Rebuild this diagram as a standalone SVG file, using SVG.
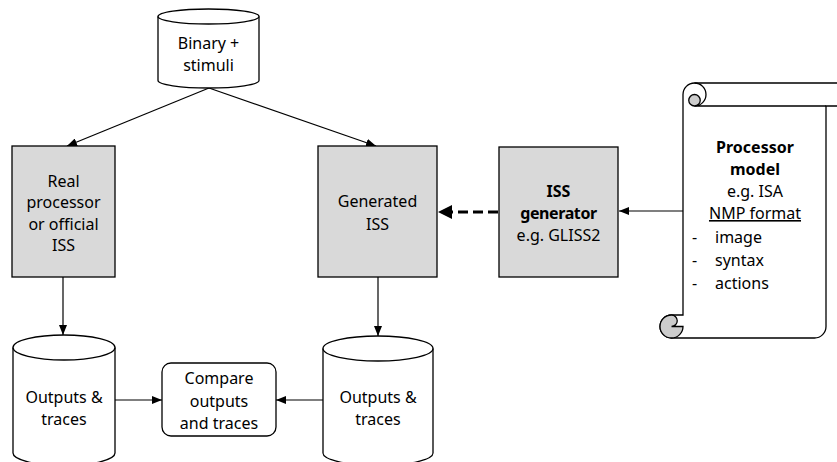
<svg xmlns="http://www.w3.org/2000/svg" width="837" height="462" viewBox="0 0 837 462">
<style>
text{font-family:"Noto Sans","Open Sans","Liberation Sans",sans-serif;font-size:16px;fill:#000;text-anchor:middle}
.b{font-weight:bold}
.l{text-anchor:start}
.box{fill:#d9d9d9;stroke:#000;stroke-width:1.3}
.shp{fill:#fff;stroke:#000;stroke-width:1.3}
.ln{fill:none;stroke:#000;stroke-width:1.3}
.con{fill:none;stroke:#000;stroke-width:1.2}
</style>
<defs>
<marker id="ah" viewBox="0 0 10 8" refX="10" refY="4" markerWidth="10" markerHeight="8" markerUnits="userSpaceOnUse" orient="auto"><path d="M0,0 L10,4 L0,8 Z" fill="#000"/></marker>
<marker id="ahb" viewBox="0 0 14 14" refX="0" refY="7" markerWidth="14" markerHeight="14" markerUnits="userSpaceOnUse" orient="auto"><path d="M0,0 L14,7 L0,14 Z" fill="#000"/></marker>
</defs>
<g id="connectors">
<line class="con" x1="209" y1="88" x2="67" y2="146" marker-end="url(#ah)"/>
<line class="con" x1="209" y1="88" x2="376" y2="146" marker-end="url(#ah)"/>
<line class="con" x1="63" y1="277" x2="63" y2="335" marker-end="url(#ah)"/>
<line class="con" x1="378" y1="277" x2="378" y2="336" marker-end="url(#ah)"/>
<line class="con" x1="115" y1="400" x2="162" y2="400" marker-end="url(#ah)"/>
<line class="con" x1="323" y1="400" x2="276" y2="400" marker-end="url(#ah)"/>
<line class="con" x1="684" y1="211" x2="619" y2="211" marker-end="url(#ah)"/>
<line x1="498" y1="212" x2="452" y2="212" stroke="#000" stroke-width="3" stroke-dasharray="10 5" marker-end="url(#ahb)"/>
</g>
<g id="binary">
<path class="shp" d="M158,16.5 A50.5,7.5 0 0 1 259,16.5 L259,80.5 A50.5,7.5 0 0 1 158,80.5 Z"/>
<path class="ln" d="M158,16.5 A50.5,7.5 0 0 0 259,16.5"/>
<text x="208.5" y="49">Binary +</text>
<text x="208.5" y="71">stimuli</text>
</g>
<g id="real">
<rect class="box" x="12" y="146" width="103" height="131"/>
<text x="63.5" y="186.5">Real</text>
<text x="63.5" y="208">processor</text>
<text x="63.5" y="229.5">or official</text>
<text x="63.5" y="251">ISS</text>
</g>
<g id="generated">
<rect class="box" x="318" y="146" width="119" height="131"/>
<text x="377.5" y="207">Generated</text>
<text x="377.5" y="230">ISS</text>
</g>
<g id="issgen">
<rect class="box" x="499" y="147" width="119" height="130"/>
<text class="b" x="558.5" y="197">ISS</text>
<text class="b" x="558.5" y="219" letter-spacing="-0.4">generator</text>
<text x="558.5" y="241">e.g. GLISS2</text>
</g>
<g id="model">
<path class="shp" d="M683,315 L683,94.5 A11.5,11.5 0 0 1 694.5,83 L837.5,83 A11.5,11.5 0 0 1 837.5,106 L826,106 L826,326.5 A11.5,11.5 0 0 1 814.5,338 L671.5,338 A11.5,11.5 0 0 1 671.5,315 Z"/>
<path class="ln" d="M694.5,83 A11.5,11.5 0 0 1 694.5,106 L826,106"/>
<circle cx="694.5" cy="100.25" r="5.75" fill="#cccccc" stroke="#000" stroke-width="1.3"/>
<path d="M683,326.5 L671.5,326.5 A5.75,5.75 0 0 0 671.5,315 A11.5,11.5 0 1 0 683,326.5 Z" fill="#cccccc" stroke="#000" stroke-width="1.3"/>
<text class="b" x="755" y="153">Processor</text>
<text class="b" x="755" y="175">model</text>
<text x="755" y="197">e.g. ISA</text>
<text x="755" y="219" text-decoration="underline">NMP format</text>
<text class="l" x="692" y="243">-</text>
<text class="l" x="715" y="243">image</text>
<text class="l" x="692" y="266">-</text>
<text class="l" x="715" y="266">syntax</text>
<text class="l" x="692" y="289">-</text>
<text class="l" x="715" y="289">actions</text>
</g>
<g id="outputs1">
<path class="shp" d="M13,347.5 A51,12.5 0 0 1 115,347.5 L115,453 A51,12.5 0 0 1 13,453 Z"/>
<path class="ln" d="M13,347.5 A51,12.5 0 0 0 115,347.5"/>
<text x="64" y="402.5">Outputs &amp;</text>
<text x="64" y="424.5">traces</text>
</g>
<g id="compare">
<rect class="shp" x="162" y="363" width="114" height="73" rx="9"/>
<text x="219" y="384">Compare</text>
<text x="219" y="407">outputs</text>
<text x="219" y="429">and traces</text>
</g>
<g id="outputs2">
<path class="shp" d="M323,348.5 A55,12.5 0 0 1 433,348.5 L433,453 A55,12.5 0 0 1 323,453 Z"/>
<path class="ln" d="M323,348.5 A55,12.5 0 0 0 433,348.5"/>
<text x="378" y="402.5">Outputs &amp;</text>
<text x="378" y="424.5">traces</text>
</g>
</svg>
